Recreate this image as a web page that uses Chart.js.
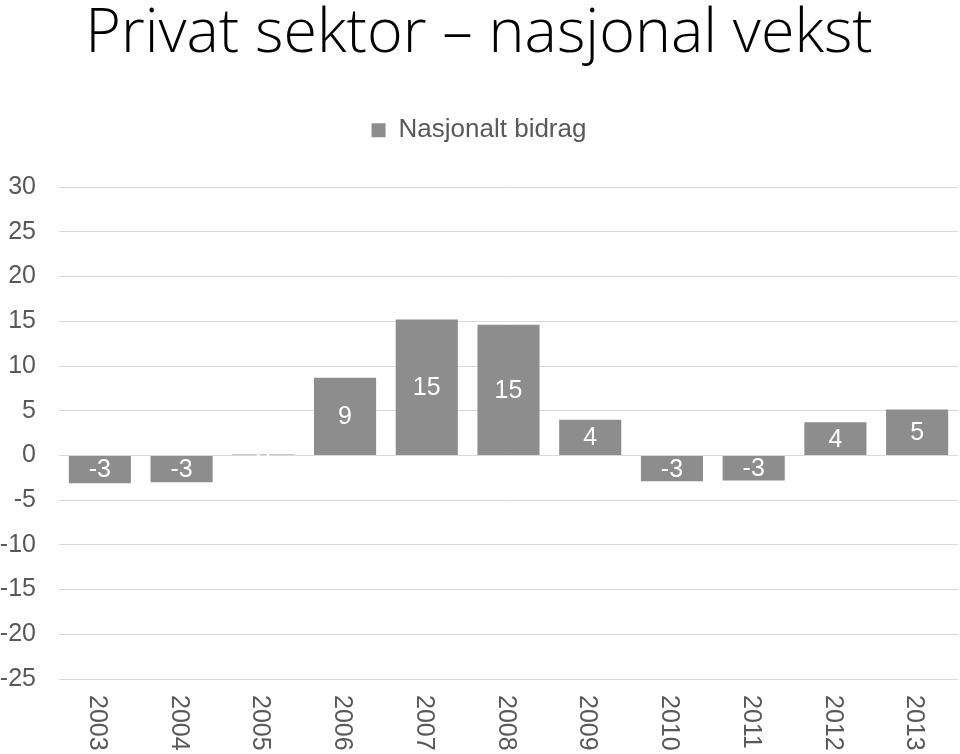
<!DOCTYPE html>
<html>
<head>
<meta charset="utf-8">
<script src="https://cdn.jsdelivr.net/npm/chart.js@4.4.1/dist/chart.umd.min.js"></script>
<style>
  html, body { margin: 0; padding: 0; background: #ffffff; }
  #wrap { width: 960px; height: 754px; }
</style>
</head>
<body>
<div id="wrap"><canvas id="c" width="960" height="754"></canvas></div>
<script>
const titleText = 'Privat sektor \u2013 nasjonal vekst';
const seriesName = 'Nasjonalt bidrag';
const categories = ['2003','2004','2005','2006','2007','2008','2009','2010','2011','2012','2013'];
const values = [-3.1, -3.0, 0.1, 8.7, 15.2, 14.6, 4.0, -2.9, -2.8, 3.7, 5.15];
const yMin = -25, yMax = 30, yStep = 5;

const barColor = '#8d8d8d';
const textColor = '#595959';
const gridColor = '#d9d9d9';
const baseFont = '"Liberation Sans", Arial, sans-serif';

const valueLabels = {
  id: 'valueLabels',
  afterDatasetsDraw(chart) {
    const ctx = chart.ctx;
    const meta = chart.getDatasetMeta(0);
    ctx.save();
    ctx.fillStyle = '#ffffff';
    ctx.font = '25px ' + baseFont;
    ctx.textAlign = 'center';
    ctx.textBaseline = 'middle';
    meta.data.forEach((bar, i) => {
      const v = chart.data.datasets[0].data[i];
      const cy = (bar.y + bar.base) / 2;
      ctx.fillText(String(Math.round(v)), bar.x, cy + 1);
    });
    ctx.restore();
  }
};

const rotatedXLabels = {
  id: 'rotatedXLabels',
  afterDraw(chart) {
    const ctx = chart.ctx;
    const xs = chart.scales.x;
    ctx.save();
    ctx.fillStyle = textColor;
    ctx.font = '25px ' + baseFont;
    ctx.textAlign = 'left';
    ctx.textBaseline = 'middle';
    chart.data.labels.forEach((lab, i) => {
      const x = xs.getPixelForTick(i);
      ctx.save();
      ctx.translate(x - 3, xs.top + 16);
      ctx.rotate(Math.PI / 2);
      ctx.fillText(lab, 0, 0);
      ctx.restore();
    });
    ctx.restore();
  }
};

new Chart(document.getElementById('c'), {
  type: 'bar',
  data: {
    labels: categories,
    datasets: [{
      label: seriesName,
      data: values,
      backgroundColor: barColor,
      borderWidth: 0,
      categoryPercentage: 1.0,
      barPercentage: 0.76
    }]
  },
  options: {
    responsive: false,
    animation: false,
    maintainAspectRatio: false,
    layout: { padding: { left: 0, right: 2, top: 0, bottom: 0 } },
    plugins: {
      title: {
        display: true,
        text: titleText,
        color: '#000000',
        font: { family: '"Open Sans", Lato, sans-serif', size: 61, weight: 300, lineHeight: 1.15 },
        padding: { top: 0, bottom: 14 }
      },
      subtitle: {
        display: true,
        text: ' ',
        weight: 100,
        font: { size: 10, lineHeight: 1 },
        padding: { top: 24, bottom: 0 }
      },
      legend: {
        display: true,
        position: 'top',
        labels: {
          color: textColor,
          font: { family: baseFont, size: 26 },
          boxWidth: 14,
          boxHeight: 14,
          padding: 33
        }
      },
      tooltip: { enabled: false }
    },
    scales: {
      x: {
        grid: { display: false },
        border: { display: false },
        ticks: { display: false },
        afterFit(scale) { scale.height = 75; }
      },
      y: {
        min: yMin,
        max: yMax,
        grid: { color: gridColor, lineWidth: 1, drawTicks: false },
        border: { display: false },
        ticks: {
          stepSize: yStep,
          color: textColor,
          padding: 23,
          font: { family: baseFont, size: 25 }
        },
        afterFit(scale) { scale.width = 59; }
      }
    }
  },
  plugins: [valueLabels, rotatedXLabels]
});
</script>
</body>
</html>
